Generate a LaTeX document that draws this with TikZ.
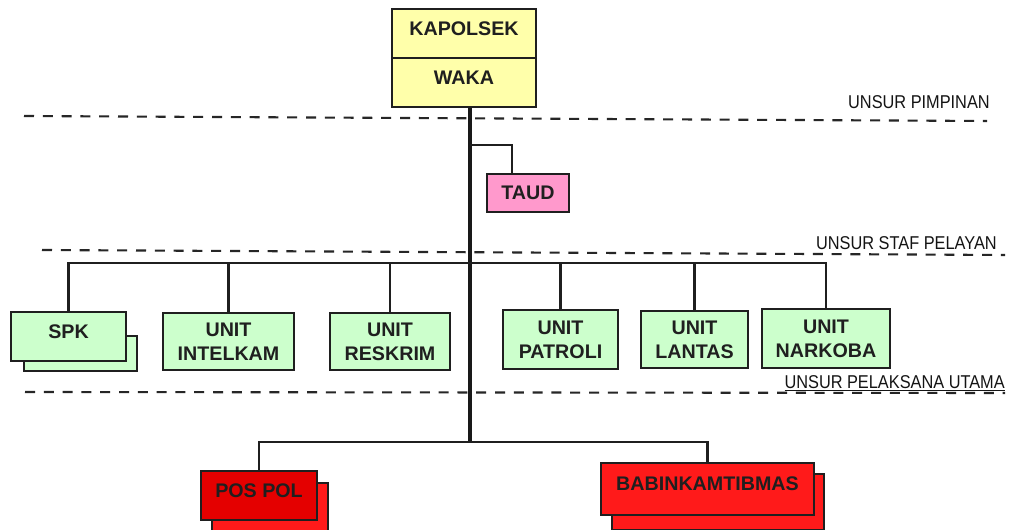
\documentclass[tikz,border=0pt]{standalone}
\usepackage{fontspec}
\setmainfont{Liberation Sans}
\newfontfamily\narrowfont[FakeStretch=0.88]{Liberation Sans}

\definecolor{kuning}{RGB}{255,255,170}
\definecolor{hijau}{RGB}{204,255,204}
\definecolor{jambon}{RGB}{255,153,204}
\definecolor{merahtua}{RGB}{228,0,0}
\definecolor{merah}{RGB}{255,26,26}

\tikzset{
  box/.style={draw=black!88, line width=1.4pt, inner sep=0pt, align=center,
    text=black!88, font=\fontsize{14}{17}\selectfont\bfseries},
  naik/.style={text depth=7pt},
  conn/.style={draw=black!88, line width=1.6pt},
  batang/.style={draw=black!90, line width=2.4pt},
  batas/.style={draw=black!85, line width=1.5pt, dash pattern=on 2.5mm off 2.2mm},
  unsur/.style={inner sep=0pt, text=black!92, font=\narrowfont\fontsize{13.2}{15}\selectfont}
}

\begin{document}
\begin{tikzpicture}[x=0.25mm, y=-0.25mm]
\useasboundingbox (0,0) rectangle (1016,530);
\fill[white] (0,0) rectangle (1016,530);

% garis batas unsur
\draw[batas] (24,116) -- (987,121);
\draw[batas] (42,250) -- (1005,255);
\draw[batas] (25,392) -- (1005,393);

\node[unsur, anchor=base east] (pimpinan)  at (990,109) {UNSUR PIMPINAN};
\node[unsur, anchor=base east] (staf)      at (997,249) {UNSUR STAF PELAYAN};
\node[unsur, anchor=base east] (pelaksana) at (1005,388) {\underline{UNSUR PELAKSANA UTAMA}};

% pimpinan
\node[box, naik, fill=kuning, minimum width=36mm, minimum height=12.25mm] (kapolsek) at (464,33.5) {KAPOLSEK};
\node[box, naik, fill=kuning, minimum width=36mm, minimum height=12.25mm] (waka)     at (464,82.5) {WAKA};

\coordinate (bawah) at (470,442);
\coordinate (ctaud) at (470,145);
\coordinate (ktaud) at (512,0);
\coordinate (cstaf) at (470,263);

\draw[batang] (waka.south -| bawah) -- (bawah);

% staf
\node[box, fill=jambon, minimum width=20.5mm, minimum height=9.5mm] (taud) at (528,193) {TAUD};
\draw[conn] (ctaud) -| (taud.north -| ktaud);

% pelaksana utama
\node[box, fill=hijau, minimum width=28.25mm, minimum height=8.75mm] (spkb) at (80.5,353.5) {};
\node[box, naik, fill=hijau, minimum width=28.75mm, minimum height=12.25mm] (spk) at (68.5,336.5) {SPK};
\node[box, fill=hijau, minimum width=32.75mm, minimum height=14.25mm] (intelkam) at (228.5,341.5) {UNIT\\INTELKAM};
\node[box, fill=hijau, minimum width=30mm,    minimum height=14.25mm] (reskrim)  at (390,341.5)   {UNIT\\RESKRIM};
\node[box, fill=hijau, minimum width=28.75mm, minimum height=14.75mm] (patroli)  at (560.5,339.5) {UNIT\\PATROLI};
\node[box, fill=hijau, minimum width=26.75mm, minimum height=14.25mm] (lantas)   at (694.5,339.5) {UNIT\\LANTAS};
\node[box, fill=hijau, minimum width=32mm,    minimum height=14.75mm] (narkoba)  at (826,338.5)   {UNIT\\NARKOBA};

\draw[conn] (spk.north) |- (narkoba.north |- cstaf) -- (narkoba.north);
\foreach \u in {intelkam,reskrim,patroli,lantas}
  \draw[conn] (\u.north) -- (\u.north |- cstaf);

% kewilayahan
\node[box, fill=merah, minimum width=29mm, minimum height=12.25mm] (pospolb) at (270,507.5) {};
\node[box, naik, fill=merahtua, minimum width=29mm, minimum height=12.25mm] (pospol) at (259,495.5) {POS POL};
\node[box, fill=merah, minimum width=53mm, minimum height=14mm] (babinb) at (718,502) {};
\node[box, naik, fill=merah, minimum width=53.25mm, minimum height=13mm] (babin) at (707.5,489) {BABINKAMTIBMAS};

\draw[conn] (pospol.north) |- (babin.north |- bawah) -- (babin.north);

\end{tikzpicture}
\end{document}
